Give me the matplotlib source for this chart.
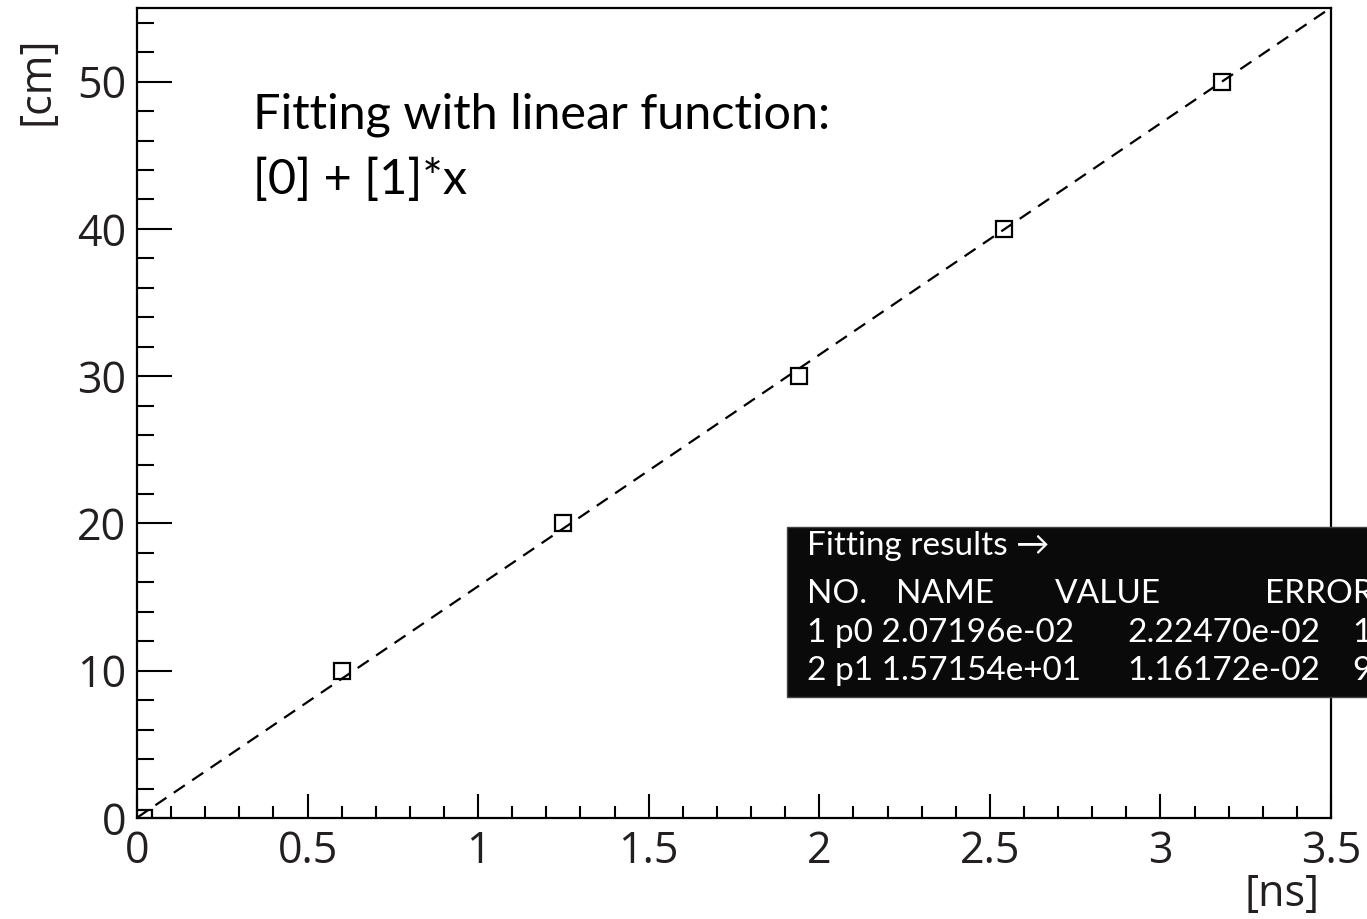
import matplotlib.pyplot as plt
import numpy as np
from matplotlib.patches import Rectangle

# Datos medidos: tiempo [ns] y distancia [cm]
t_ns = [0.02, 0.60, 1.25, 1.94, 2.54, 3.18]
d_cm = [0, 10, 20, 30, 40, 50]

# Parametros del ajuste lineal [0] + [1]*x
p0 = 2.07196e-02
p1 = 1.57154e+01

fit_title = "Fitting with linear function:"
fit_formula = "[0] + [1]*x"
box_title = "Fitting results \u2192"
box_header = ["NO.", "NAME", "VALUE", "ERROR"]
box_rows = [
    ["1 p0 2.07196e-02", "2.22470e-02", "1"],
    ["2 p1 1.57154e+01", "1.16172e-02", "9"],
]

W, H = 1367, 919
fig = plt.figure(figsize=(W / 100, H / 100), dpi=100)
ax = fig.add_axes([137 / W, 1 - 818 / H, (1331 - 137) / W, (818 - 8) / H])

xf = np.linspace(0, 3.5, 200)
ax.plot(xf, p0 + p1 * xf, color='black', lw=1.6, dashes=(6, 4))
ax.plot(t_ns, d_cm, 's', ms=12, mfc='none', mec='black', mew=1.6)

ax.set_xlim(0, 3.5)
ax.set_ylim(0, 55)
ax.set_xticks(np.arange(0, 3.51, 0.5))
ax.set_xticks(np.arange(0, 3.51, 0.1), minor=True)
ax.set_yticks(np.arange(0, 51, 10))
ax.set_yticks(np.arange(0, 55, 2), minor=True)
ax.set_xticklabels(['0', '0.5', '1', '1.5', '2', '2.5', '3', '3.5'])

for s in ax.spines.values():
    s.set_linewidth(1.6)
ax.tick_params(axis='both', which='both', direction='in', width=1.5,
               labelsize=31, labelcolor='#231f20')
ax.tick_params(axis='x', which='major', length=17, pad=8)
ax.tick_params(axis='x', which='minor', length=8.5)
ax.tick_params(axis='y', which='major', length=25, pad=8)
ax.tick_params(axis='y', which='minor', length=12.5)
for lab in ax.get_xticklabels() + ax.get_yticklabels():
    lab.set_family('Open Sans')

fig.text(37 / W, 1 - 36 / H, '[cm]', rotation=90, ha='center', va='top',
         fontsize=31, family='Open Sans', color='#231f20')
fig.text(1320 / W, 1 - 917 / H, '[ns]', ha='right', va='bottom',
         fontsize=31, family='Open Sans', color='#231f20')

fig.text(253 / W, 1 - 115 / H, fit_title, ha='left', va='center',
         fontsize=35, family='Lato')
fig.text(253 / W, 1 - 180 / H, fit_formula, ha='left', va='center',
         fontsize=35, family='Lato')

# Caja negra con resultados del ajuste (el texto se corta en el borde, como en el original)
fig.patches.append(Rectangle((787 / W, 1 - 697 / H), 0.5, (697 - 527) / H,
                             transform=fig.transFigure, facecolor='#0a0a0a',
                             edgecolor='#444444', lw=1))
kw = dict(ha='left', va='center', color='white', fontsize=24, family='Lato')
fig.text(807 / W, 1 - 546 / H, box_title, **kw)
for txt, x in zip(box_header, [807, 896, 1055, 1265]):
    fig.text(x / W, 1 - 594 / H, txt, **kw)
for row, y in zip(box_rows, [633, 671]):
    for txt, x in zip(row, [807, 1127, 1352]):
        fig.text(x / W, 1 - y / H, txt, **kw)

fig.savefig('out.png', dpi=100)
